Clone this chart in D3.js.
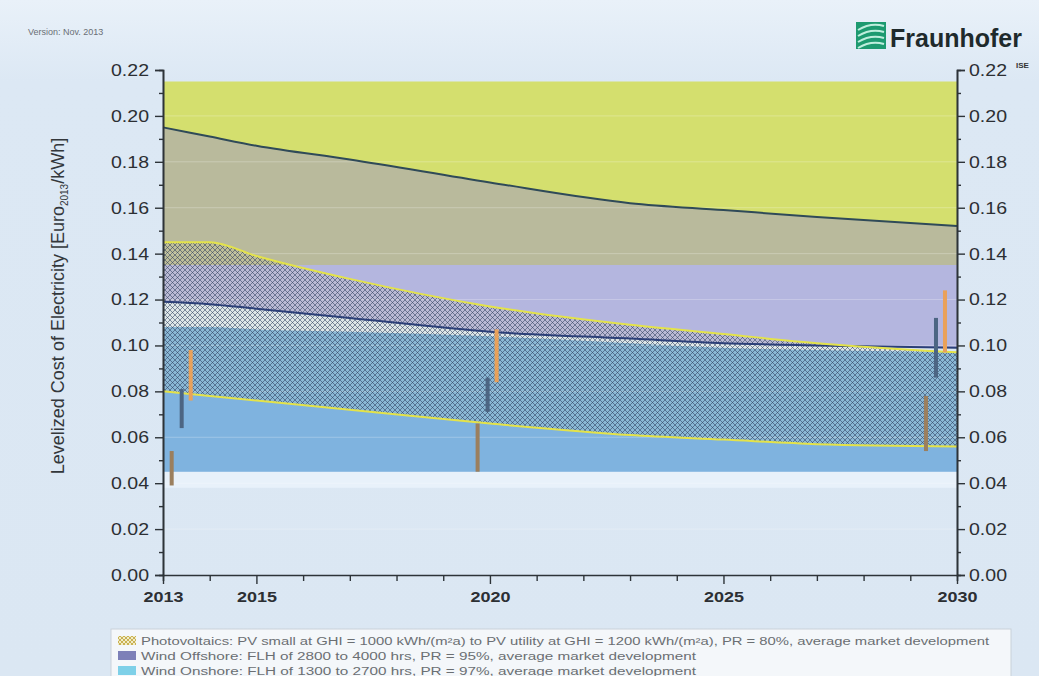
<!DOCTYPE html>
<html>
<head>
<meta charset="utf-8">
<script src="https://cdn.jsdelivr.net/npm/d3@7"></script>
<style>
  body { margin: 0; background: #dfeaf5; }
  svg { display: block; font-family: "Liberation Sans", Arial, sans-serif; }
</style>
</head>
<body>
<div id="chart"></div>
<script>
// years used for the bands
var years = [2013, 2014, 2015, 2017, 2020, 2023, 2025, 2027, 2030];

// Biogas band (flat)
var biogasLow  = [0.135, 0.135, 0.135, 0.135, 0.135, 0.135, 0.135, 0.135, 0.135];
var biogasHigh = [0.215, 0.215, 0.215, 0.215, 0.215, 0.215, 0.215, 0.215, 0.215];
// Wind offshore band
var offHigh = [0.195, 0.191, 0.187, 0.181, 0.171, 0.162, 0.159, 0.156, 0.152];
var offLow  = [0.119, 0.118, 0.116, 0.112, 0.106, 0.103, 0.101, 0.100, 0.099];
// Wind onshore band
var onHigh = [0.108, 0.108, 0.107, 0.106, 0.104, 0.101, 0.099, 0.098, 0.097];
var onLow  = [0.045, 0.045, 0.045, 0.045, 0.045, 0.045, 0.045, 0.045, 0.045];
// Photovoltaics band
var pvHigh = [0.145, 0.145, 0.139, 0.129, 0.117, 0.109, 0.105, 0.101, 0.097];
var pvLow  = [0.080, 0.078, 0.076, 0.072, 0.066, 0.061, 0.059, 0.057, 0.056];

// conventional power plants, ranges for 2013 / 2020 / 2030
var barYears = [2013.4, 2019.95, 2029.55];
var brownCoal = [[0.039, 0.054], [0.045, 0.066], [0.054, 0.078]];
var hardCoal  = [[0.064, 0.081], [0.071, 0.086], [0.086, 0.112]];
var ccgt      = [[0.076, 0.098], [0.084, 0.107], [0.097, 0.124]];

var yTicks = [0, 0.02, 0.04, 0.06, 0.08, 0.10, 0.12, 0.14, 0.16, 0.18, 0.20, 0.22];
var yMinor = [0.01, 0.03, 0.05, 0.07, 0.09, 0.11, 0.13, 0.15, 0.17, 0.19, 0.21];
var xLabels = [2013, 2015, 2020, 2025, 2030];

var legendTexts = [
  "Photovoltaics: PV small at GHI = 1000 kWh/(m\u00b2a) to PV utility at GHI = 1200 kWh/(m\u00b2a), PR = 80%, average market development",
  "Wind Offshore: FLH of 2800 to 4000 hrs, PR = 95%, average market development",
  "Wind Onshore: FLH of 1300 to 2700 hrs, PR = 97%, average market development"
];

function init()
{
    var w = 1039, h = 676;
    var x0 = 163, x1 = 957, yTop = 70, yBot = 575;

    var svg = d3.select("#chart").append("svg")
        .attr("width", w).attr("height", h);

    var defs = svg.append("defs");
    var bg = defs.append("linearGradient").attr("id", "bg")
        .attr("x1", 0).attr("y1", 0).attr("x2", 0).attr("y2", 1);
    bg.append("stop").attr("offset", "0").attr("stop-color", "#e9f1f9");
    bg.append("stop").attr("offset", "0.12").attr("stop-color", "#dce8f4");
    bg.append("stop").attr("offset", "1").attr("stop-color", "#dbe7f3");

    // cross hatch for PV
    var pat = defs.append("pattern").attr("id", "hatch")
        .attr("patternUnits", "userSpaceOnUse").attr("width", 5).attr("height", 5);
    pat.append("rect").attr("width", 5).attr("height", 5).attr("fill", "rgba(235,225,130,0.10)");
    pat.append("path").attr("d", "M-1,1 l2,-2 M0,5 l5,-5 M4,6 l2,-2 M-1,4 l2,2 M0,0 l5,5 M4,-1 l2,2")
        .attr("stroke", "#2a3a5c").attr("stroke-opacity", 0.6).attr("stroke-width", 0.9);

    var pat2 = defs.append("pattern").attr("id", "hatchLeg")
        .attr("patternUnits", "userSpaceOnUse").attr("width", 4).attr("height", 4);
    pat2.append("rect").attr("width", 4).attr("height", 4).attr("fill", "#f1ecc8");
    pat2.append("path").attr("d", "M0,4 l4,-4 M0,0 l4,4")
        .attr("stroke", "#c9b152").attr("stroke-width", 1);

    svg.append("rect").attr("width", w).attr("height", h).attr("fill", "url(#bg)");

    var xScale = d3.scaleLinear().domain([2013, 2030]).range([x0, x1]);
    var yScale = d3.scaleLinear().domain([0, 0.22]).range([yBot, yTop]);

    function band(lo, hi) {
        return d3.area()
            .x(function(d, i) { return xScale(years[i]); })
            .y0(function(d, i) { return yScale(lo[i]); })
            .y1(function(d, i) { return yScale(hi[i]); })
            .curve(d3.curveMonotoneX)(years);
    }
    function line(vals) {
        return d3.line()
            .x(function(d, i) { return xScale(years[i]); })
            .y(function(d, i) { return yScale(vals[i]); })
            .curve(d3.curveMonotoneX)(years);
    }

    // plot background with light strip under the bands
    svg.append("rect").attr("x", x0).attr("y", yScale(0.045)).attr("width", x1 - x0)
        .attr("height", yScale(0.038) - yScale(0.045)).attr("fill", "#e8f1fa");

    // bands
    svg.append("path").attr("d", band(biogasLow, biogasHigh)).attr("fill", "#d4df6e");
    svg.append("path").attr("d", band(onLow, onHigh)).attr("fill", "#7fb3df");
    svg.append("path").attr("d", band(offLow, offHigh)).attr("fill", "#b4b6df");
    svg.append("path").attr("d", band(biogasLow, offHigh)).attr("fill", "#b9ba9c");

    // faint grid lines
    svg.append("g").selectAll("line").data(yTicks.slice(1, -1)).enter().append("line")
        .attr("x1", x0).attr("x2", x1)
        .attr("y1", function(d) { return yScale(d); })
        .attr("y2", function(d) { return yScale(d); })
        .attr("stroke", "#ffffff").attr("stroke-opacity", 0.25);

    // PV hatch
    svg.append("path").attr("d", band(pvLow, pvHigh)).attr("fill", "url(#hatch)");

    // outlines
    svg.append("path").attr("d", line(offHigh)).attr("fill", "none")
        .attr("stroke", "#2f4a58").attr("stroke-width", 2);
    svg.append("path").attr("d", line(offLow)).attr("fill", "none")
        .attr("stroke", "#2b3f78").attr("stroke-width", 2);
    svg.append("path").attr("d", line(pvHigh)).attr("fill", "none")
        .attr("stroke", "#e4e34a").attr("stroke-width", 2);
    svg.append("path").attr("d", line(pvLow)).attr("fill", "none")
        .attr("stroke", "#e4e34a").attr("stroke-width", 2);

    // conventional ranges
    function bars(data, offset, color) {
        svg.append("g").selectAll("rect").data(data).enter().append("rect")
            .attr("x", function(d, i) { return xScale(barYears[i]) + offset - 2; })
            .attr("width", 4)
            .attr("y", function(d) { return yScale(d[1]); })
            .attr("height", function(d) { return yScale(d[0]) - yScale(d[1]); })
            .attr("fill", color);
    }
    bars(brownCoal, -10, "#9b7f5e");
    bars(hardCoal, 0, "#4c6583");
    bars(ccgt, 9, "#e9a15a");

    // axes
    var fmt = d3.format(".2f");
    svg.append("g").attr("transform", "translate(" + x0 + ",0)")
        .call(d3.axisLeft(yScale).tickValues(yTicks).tickSize(8).tickPadding(6).tickFormat(fmt));
    svg.append("g").attr("transform", "translate(" + x0 + ",0)")
        .call(d3.axisLeft(yScale).tickValues(yMinor).tickSize(4).tickFormat(""));
    svg.append("g").attr("transform", "translate(" + x1 + ",0)")
        .call(d3.axisRight(yScale).tickValues(yTicks).tickSize(8).tickPadding(4).tickFormat(fmt));
    svg.append("g").attr("transform", "translate(" + x1 + ",0)")
        .call(d3.axisRight(yScale).tickValues(yMinor).tickSize(4).tickFormat(""));

    var bottom = svg.append("g").attr("transform", "translate(0," + yBot + ")")
        .call(d3.axisBottom(xScale).tickValues(d3.range(2013, 2031)).tickSize(6).tickPadding(10)
            .tickFormat(function(d) { return xLabels.indexOf(d) >= 0 ? d : ""; }));
    bottom.selectAll(".tick").filter(function(d) { return xLabels.indexOf(d) >= 0; })
        .select("line").attr("y2", 9);

    svg.selectAll(".domain").attr("stroke", "#2d3338").attr("stroke-width", 1.6);
    svg.selectAll(".tick line").attr("stroke", "#2d3338").attr("stroke-width", 1.4);
    svg.selectAll(".tick text").attr("fill", "#2c2f33").attr("font-size", "17px")
        .attr("font-family", "Liberation Sans, Arial, sans-serif")
        .filter(function() { return this.textContent !== ""; })
        .attr("textLength", 38).attr("lengthAdjust", "spacingAndGlyphs");
    bottom.selectAll(".tick text").attr("font-weight", "bold").attr("font-size", "15px")
        .filter(function() { return this.textContent !== ""; })
        .attr("textLength", 40);

    // y axis title
    var title = svg.append("text")
        .attr("transform", "translate(64,306) rotate(-90)")
        .attr("text-anchor", "middle").attr("font-size", "18px").attr("fill", "#33373b");
    title.append("tspan").text("Levelized Cost of Electricity [Euro");
    title.append("tspan").attr("font-size", "10px").attr("dy", 4).text("2013");
    title.append("tspan").attr("dy", -4).text("/kWh]");

    // header
    svg.append("text").attr("x", 28).attr("y", 35).attr("font-size", "9px")
        .attr("fill", "#6a6f75").text("Version: Nov. 2013");

    var logo = svg.append("g").attr("transform", "translate(856,22)");
    logo.append("rect").attr("width", 30).attr("height", 27).attr("fill", "#1d9a70");
    [6, 12, 18, 24].forEach(function(o) {
        logo.append("path").attr("d", "M2," + (o + 2) + " Q15," + (o - 6) + " 28," + (o - 2))
            .attr("stroke", "#bfeedd").attr("stroke-width", 2).attr("fill", "none");
    });
    svg.append("text").attr("x", 890).attr("y", 47).attr("font-size", "25px")
        .attr("font-weight", "bold").attr("fill", "#1f2a2c").text("Fraunhofer");
    svg.append("text").attr("x", 1016).attr("y", 68).attr("font-size", "8px")
        .attr("font-weight", "bold").attr("fill", "#333").text("ISE");

    // legend
    svg.append("rect").attr("x", 111).attr("y", 629).attr("width", 900).attr("height", 60)
        .attr("fill", "#f4f7fa").attr("stroke", "#c9d2da");
    var legFills = ["url(#hatchLeg)", "#7d80b8", "#7ed0e8"];
    var legWidths = [848, 555, 555];
    legendTexts.forEach(function(t, i) {
        var yy = 636 + i * 15;
        svg.append("rect").attr("x", 118).attr("y", yy).attr("width", 18).attr("height", 9)
            .attr("fill", legFills[i]);
        svg.append("text").attr("x", 141).attr("y", yy + 8.5).attr("font-size", "10px")
            .attr("fill", "#6b6f73").attr("textLength", legWidths[i])
            .attr("lengthAdjust", "spacingAndGlyphs").text(t);
    });
}
window.onload = init;
</script>
</body>
</html>
